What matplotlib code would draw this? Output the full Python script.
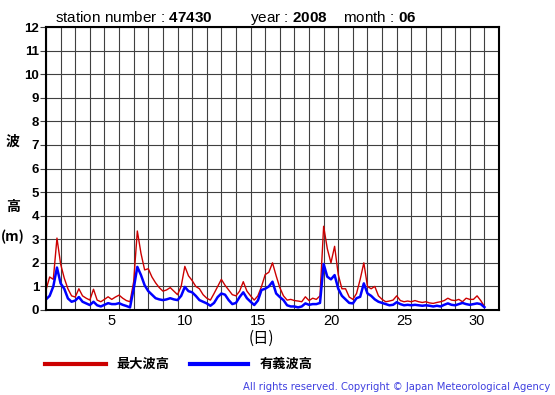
import numpy as np
import matplotlib
matplotlib.use("Agg")
import matplotlib.pyplot as plt

# wave heights (m), every 6 hours from June 1 00h (x = days since June 1)
max_wave = [
    0.85, 1.40, 1.30, 3.05,
    1.95, 1.35, 0.90, 0.60,
    0.55, 0.90, 0.60, 0.50,
    0.42, 0.88, 0.42, 0.35,
    0.45, 0.56, 0.45, 0.55,
    0.63, 0.50, 0.40, 0.35,
    1.20, 3.35, 2.40, 1.70,
    1.75, 1.40, 1.15, 0.95,
    0.80, 0.85, 0.95, 0.80,
    0.65, 1.00, 1.85, 1.45,
    1.25, 1.00, 0.90, 0.65,
    0.50, 0.42, 0.70, 1.00,
    1.30, 1.05, 0.85, 0.65,
    0.60, 0.80, 1.20, 0.80,
    0.60, 0.42, 0.60, 1.00,
    1.50, 1.60, 2.00, 1.45,
    0.95, 0.60, 0.42, 0.45,
    0.40, 0.38, 0.35, 0.56,
    0.40, 0.50, 0.45, 0.60,
    3.55, 2.60, 2.00, 2.70,
    1.50, 0.90, 0.90, 0.55,
    0.45, 0.70, 1.30, 2.00,
    1.00, 0.90, 1.00, 0.60,
    0.45, 0.35, 0.38, 0.42,
    0.60, 0.40, 0.35, 0.38,
    0.35, 0.40, 0.35, 0.32,
    0.35, 0.30, 0.28, 0.32,
    0.35, 0.40, 0.50, 0.42,
    0.40, 0.45, 0.35, 0.50,
    0.45, 0.45, 0.60, 0.40,
    0.15,
]
sig_wave = [
    0.45, 0.60, 1.00, 1.80,
    1.13, 0.90, 0.49, 0.35,
    0.40, 0.55, 0.35, 0.28,
    0.21, 0.35, 0.20, 0.15,
    0.22, 0.29, 0.25, 0.25,
    0.29, 0.22, 0.17, 0.11,
    0.90, 1.83, 1.48, 1.05,
    0.80, 0.65, 0.50, 0.45,
    0.42, 0.45, 0.50, 0.45,
    0.42, 0.60, 0.98, 0.80,
    0.75, 0.60, 0.42, 0.35,
    0.28, 0.18, 0.30, 0.55,
    0.70, 0.65, 0.42, 0.25,
    0.30, 0.55, 0.75, 0.50,
    0.35, 0.21, 0.40, 0.85,
    0.90, 1.00, 1.20, 0.70,
    0.55, 0.42, 0.20, 0.15,
    0.15, 0.11, 0.15, 0.28,
    0.22, 0.25, 0.25, 0.30,
    1.95, 1.41, 1.30, 1.48,
    0.90, 0.60, 0.45, 0.30,
    0.28, 0.50, 0.56, 1.13,
    0.70, 0.60, 0.45, 0.35,
    0.30, 0.25, 0.20, 0.22,
    0.33, 0.25, 0.20, 0.22,
    0.20, 0.22, 0.20, 0.18,
    0.20, 0.18, 0.15, 0.18,
    0.15, 0.22, 0.28, 0.22,
    0.20, 0.25, 0.30, 0.25,
    0.22, 0.25, 0.28, 0.25,
    0.12,
]
hours = np.arange(0, 721, 6)
day_labels = ["5", "10", "15", "20", "25", "30"]
day_ticks = [5, 10, 15, 20, 25, 30]
y_ticks = list(range(0, 13))

plt.rcParams["mathtext.fontset"] = "custom"
plt.rcParams["mathtext.rm"] = "Liberation Sans"
plt.rcParams["mathtext.bf"] = "Liberation Sans:bold"

jp = ["Noto Sans CJK JP", "DejaVu Sans"]
RED = "#cc0000"
BLUE = "#0000ff"

fig = plt.figure(figsize=(5.55, 3.95), dpi=100)
ax = fig.add_axes([46 / 555, 1 - 310 / 395, 453 / 555, 283 / 395])

x = hours / 24.0
ax.plot(x, max_wave, color=RED, lw=1.0)
ax.plot(x, sig_wave, color=BLUE, lw=1.8)

ax.set_xlim(0, 31)
ax.set_ylim(0, 12)
ax.set_xticks(range(0, 32), minor=True)
ax.set_xticks([d - 0.5 for d in day_ticks])
ax.set_xticklabels(day_labels, fontsize=10.5, family="Liberation Sans")
ax.set_yticks(y_ticks)
ax.set_yticklabels([str(v) for v in y_ticks], fontsize=9.5,
                   fontweight="bold", family="Liberation Sans")
ax.tick_params(axis="x", which="both", length=0, pad=3)
ax.tick_params(axis="y", length=4, width=0.8, color="#404040", pad=1)
ax.grid(True, which="minor", axis="x", color="#404040", lw=0.8)
ax.grid(True, which="major", axis="y", color="#404040", lw=0.8)
for s in ax.spines.values():
    s.set_linewidth(1.5)
    s.set_color("black")

# header
hdr = dict(fontsize=11, family="Liberation Sans", va="baseline")
hy = 1 - 22 / 395
fig.text(55 / 555, hy, r"station number : $\mathbf{47430}$", **hdr)
fig.text(250 / 555, hy, r"year : $\mathbf{2008}$", **hdr)
fig.text(343 / 555, hy, r"month : $\mathbf{06}$", **hdr)

# axis labels
fig.text(13 / 555, 1 - 142 / 395, "波", family=jp, fontsize=10,
         fontweight="bold", ha="center", va="center")
fig.text(13 / 555, 1 - 207 / 395, "高", family=jp, fontsize=10,
         fontweight="bold", ha="center", va="center")
fig.text(1 / 555, 1 - 237 / 395, "(m)", family=jp, fontsize=10,
         fontweight="bold", ha="left", va="center")
fig.text(261 / 555, 1 - 338 / 395, "(日)", family=jp, fontsize=11,
         ha="center", va="center")

# legend
fig.add_artist(plt.Line2D([45 / 555, 106 / 555], [1 - 364 / 395] * 2,
                          color=RED, lw=3, transform=fig.transFigure))
fig.text(116 / 555, 1 - 364 / 395, "最大波高", family=jp, fontsize=9.5,
         fontweight="bold", va="center")
fig.add_artist(plt.Line2D([190 / 555, 248 / 555], [1 - 364 / 395] * 2,
                          color=BLUE, lw=3, transform=fig.transFigure))
fig.text(260 / 555, 1 - 364 / 395, "有義波高", family=jp, fontsize=9.5,
         fontweight="bold", va="center")

fig.text(550 / 555, 1 - 387 / 395,
         "All rights reserved. Copyright © Japan Meteorological Agency",
         fontsize=7.2, color="#4040e0", ha="right", va="center",
         family="DejaVu Sans")

fig.savefig("out.png", dpi=100)
